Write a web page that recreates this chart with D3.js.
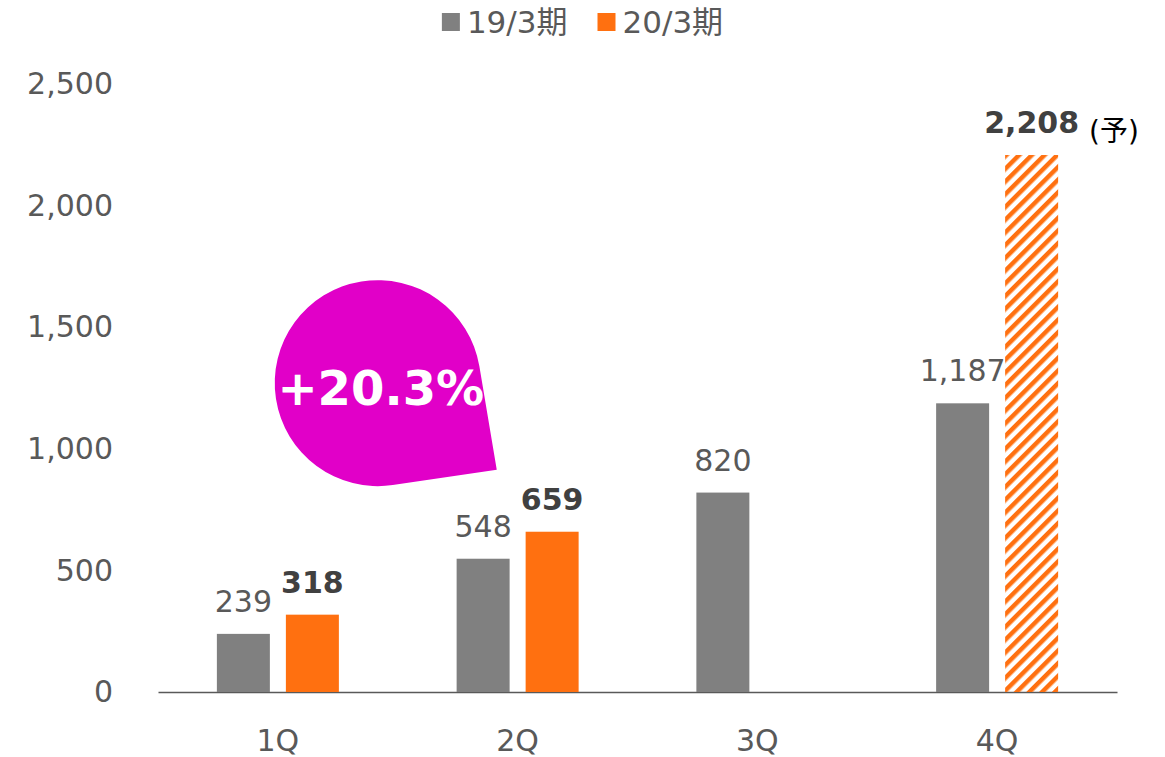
<!DOCTYPE html>
<html>
<head>
<meta charset="utf-8">
<script src="https://cdn.jsdelivr.net/npm/d3@7"></script>
<style>
  body { margin: 0; background: #fff; }
  text { font-family: "DejaVu Sans", "Noto Sans CJK JP", sans-serif; }
</style>
</head>
<body>
<div id="chart"></div>
<script>
// data
const categories = ["1Q", "2Q", "3Q", "4Q"];
const seriesNames = ["19/3期", "20/3期"];
const prevValues = [239, 548, 820, 1187];
const currValues = [318, 659, null, 2208];
const currForecast = [false, false, false, true];
const yTicks = [0, 500, 1000, 1500, 2000, 2500];
const forecastMark = "(予)";
const growthLabel = "+20.3%";

const colors = {prev: "#808080", curr: "#FF7010", callout: "#E100C8", text: "#595959", bold: "#404040"};

const width = 1165, height = 757;
const margin = {top: 84, right: 48, bottom: 65, left: 158};

const svg = d3.select("#chart").append("svg")
    .attr("width", width)
    .attr("height", height);

const xCat = d3.scaleBand()
    .domain(categories)
    .range([margin.left, width - margin.right]);

const xSub = d3.scaleBand()
    .domain(seriesNames)
    .range([-61, 61])
    .paddingInner(0.232);

const y = d3.scaleLinear()
    .domain([0, 2500])
    .range([height - margin.bottom, margin.top]);

// hatch pattern for forecast bar
const defs = svg.append("defs");
defs.append("pattern")
    .attr("id", "hatch")
    .attr("patternUnits", "userSpaceOnUse")
    .attr("width", 9)
    .attr("height", 9)
    .attr("patternTransform", "rotate(45)")
    .append("rect")
    .attr("width", 4.5)
    .attr("height", 9)
    .attr("fill", colors.curr);

// y axis labels
svg.append("g")
    .attr("transform", "translate(" + (margin.left - 45) + ",0)")
    .call(d3.axisLeft(y).tickValues(yTicks).tickSize(0).tickPadding(0).tickFormat(d3.format(",")))
    .call(g => g.select(".domain").remove())
    .selectAll("text")
    .attr("fill", colors.text)
    .style("font-size", "30px")
    .style("font-family", "DejaVu Sans, sans-serif");

// x axis
svg.append("g")
    .attr("transform", "translate(0," + y(0) + ")")
    .call(d3.axisBottom(xCat).tickSize(0).tickPadding(38))
    .call(g => g.select(".domain").attr("stroke", "#595959").attr("stroke-width", 1.5))
    .selectAll("text")
    .attr("fill", colors.text)
    .style("font-size", "30px")
    .style("font-family", "DejaVu Sans, sans-serif");

const barW = xSub.bandwidth();
function barX(i, s) {
    return xCat(categories[i]) + xCat.bandwidth() / 2 + xSub(seriesNames[s]);
}

const prevData = prevValues.map((v, i) => ({i: i, v: v}));
const currData = currValues.map((v, i) => ({i: i, v: v, f: currForecast[i]})).filter(d => d.v !== null);

// previous year bars
svg.append("g").selectAll("rect")
    .data(prevData)
    .join("rect")
    .attr("x", d => barX(d.i, 0))
    .attr("y", d => y(d.v))
    .attr("width", barW)
    .attr("height", d => y(0) - y(d.v))
    .attr("fill", colors.prev);

// current year bars
svg.append("g").selectAll("rect")
    .data(currData)
    .join("rect")
    .attr("x", d => barX(d.i, 1))
    .attr("y", d => y(d.v))
    .attr("width", barW)
    .attr("height", d => y(0) - y(d.v))
    .attr("fill", d => d.f ? "url(#hatch)" : colors.curr);

// value labels
svg.append("g").selectAll("text")
    .data(prevData)
    .join("text")
    .attr("x", d => barX(d.i, 0) + barW / 2)
    .attr("y", d => y(d.v) - 22)
    .attr("text-anchor", "middle")
    .attr("fill", colors.text)
    .style("font-size", "30px")
    .text(d => d3.format(",")(d.v));

const currLabels = svg.append("g").selectAll("text")
    .data(currData)
    .join("text")
    .attr("x", d => barX(d.i, 1) + barW / 2)
    .attr("y", d => y(d.v) - 22)
    .attr("text-anchor", "middle")
    .attr("fill", colors.bold)
    .style("font-size", "30px")
    .style("font-weight", "bold")
    .text(d => d3.format(",")(d.v));

currLabels.filter(d => d.f).each(function (d) {
    const w = this.getComputedTextLength();
    svg.append("text")
        .attr("x", barX(d.i, 1) + barW / 2 + w / 2 + 10)
        .attr("y", y(d.v) - 14)
        .attr("fill", "#000")
        .style("font-size", "28px")
        .text(forecastMark);
});

// growth callout
const cx = xCat("2Q") - 20, cy = y(1270), r = 103;
const tipX = xCat("2Q") + 99, tipY = y(914);
const dx = tipX - cx, dy = tipY - cy, dist = Math.hypot(dx, dy);
const base = Math.atan2(dy, dx), spread = Math.acos(r / dist);
const a1 = base - spread, a2 = base + spread;
const p2 = [cx + r * Math.cos(a2), cy + r * Math.sin(a2)];
const callout = d3.path();
callout.moveTo(tipX, tipY);
callout.lineTo(p2[0], p2[1]);
callout.arc(cx, cy, r, a2, a1 + 2 * Math.PI);
callout.closePath();

svg.append("path")
    .attr("d", callout.toString())
    .attr("fill", colors.callout);

svg.append("text")
    .attr("x", cx + 3)
    .attr("y", cy + 22)
    .attr("text-anchor", "middle")
    .attr("fill", "#fff")
    .style("font-size", "48px")
    .style("font-weight", "bold")
    .text(growthLabel);

// legend
const legend = svg.append("g");
const legendColors = [colors.prev, colors.curr];
let lx = 0;
seriesNames.forEach(function (name, k) {
    const item = legend.append("g").attr("transform", "translate(" + lx + ",0)");
    item.append("rect")
        .attr("x", 0)
        .attr("y", 13)
        .attr("width", 18)
        .attr("height", 18)
        .attr("fill", legendColors[k]);
    const t = item.append("text")
        .attr("x", 25)
        .attr("y", 33)
        .attr("fill", colors.text)
        .style("font-size", "31px")
        .text(name);
    lx += 25 + t.node().getComputedTextLength() + 30;
});
const legendW = lx - 30;
legend.attr("transform", "translate(" + ((width - legendW) / 2) + ",0)");
</script>
</body>
</html>
